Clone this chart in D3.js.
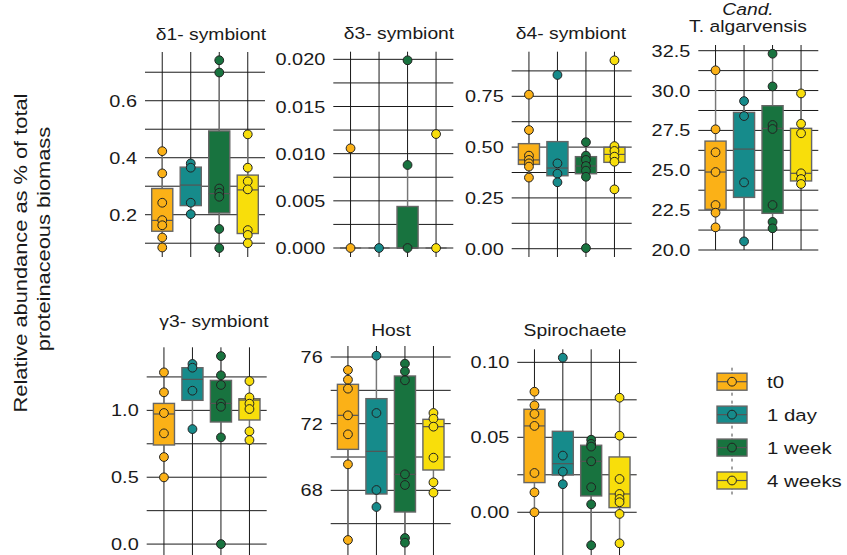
<!DOCTYPE html>
<html><head><meta charset="utf-8">
<script src="https://cdn.jsdelivr.net/npm/d3@7"></script>
<style>html,body{margin:0;padding:0;background:#fff;} text{font-family:"Liberation Sans",Arial,sans-serif;fill:#1a1a1a;}</style>
</head><body><svg id="c" width="847" height="555"></svg>
<script>
// ---------------- DATA ----------------
const groups = ["t0", "1 day", "1 week", "4 weeks"];
const titles = ["δ1- symbiont", "δ3- symbiont", "δ4- symbiont", "T. algarvensis", "γ3- symbiont", "Host", "Spirochaete"];
// box stats per group: [Q1, median, Q3]
const d1Box = [[0.142, 0.180, 0.292], [0.232, 0.304, 0.367], [0.206, 0.274, 0.494], [0.134, 0.287, 0.339]];
const d1Pts = [[0.423, 0.345, 0.242, 0.181, 0.163, 0.120, 0.085], [0.380, 0.365, 0.242, 0.202], [0.742, 0.699, 0.292, 0.277, 0.263, 0.150, 0.083], [0.482, 0.365, 0.317, 0.289, 0.146, 0.129, 0.100]];
const d3Box = [[0, 0, 0], [0, 0, 0], [0, 0, 0.0044], [0, 0, 0]];
const d3Pts = [[0.01057, 0], [0], [0.0199, 0.0088, 0], [0.01208, 0]];
const d4Box = [[0.415, 0.437, 0.517], [0.359, 0.397, 0.527], [0.369, 0.407, 0.453], [0.425, 0.464, 0.499]];
const d4Pts = [[0.758, 0.584, 0.458, 0.437, 0.420, 0.404, 0.350], [0.855, 0.420, 0.369, 0.327], [0.524, 0.458, 0.437, 0.407, 0.384, 0.354, 0.003], [0.927, 0.505, 0.481, 0.453, 0.428, 0.292]];
const taBox = [[22.55, 24.89, 26.83], [23.30, 26.33, 28.63], [22.30, 27.63, 29.05], [24.33, 24.81, 27.63]];
const taPts = [[31.27, 27.57, 26.13, 24.89, 22.82, 22.34, 21.42], [29.34, 28.40, 24.24, 20.54], [32.31, 30.26, 27.84, 27.59, 22.82, 21.76, 21.36], [29.82, 27.92, 27.32, 24.81, 24.45, 24.14]];
const g3Box = [[0.741, 0.973, 1.052], [1.075, 1.232, 1.319], [0.913, 1.052, 1.224], [0.928, 1.077, 1.087]];
const g3Pts = [[1.284, 1.135, 0.980, 0.828, 0.651, 0.499], [1.347, 1.319, 1.147, 0.860], [1.406, 1.262, 1.190, 1.052, 1.027, 0.798, 0.0], [1.219, 1.097, 1.050, 1.010, 0.843, 0.778]];
const hoBox = [[70.46, 72.50, 74.36], [67.78, 70.34, 73.50], [66.70, 68.96, 74.86], [69.22, 71.82, 72.26]];
const hoPts = [[75.22, 74.64, 74.10, 72.50, 71.36, 69.56, 65.02], [76.08, 72.64, 68.02, 67.00], [75.60, 75.14, 74.60, 68.96, 68.32, 65.14, 64.86], [72.64, 72.30, 71.82, 69.96, 68.48, 67.86]];
const spBox = [[0.0198, 0.0576, 0.0687], [0.0249, 0.0324, 0.0540], [0.0109, 0.0340, 0.0447], [0.0031, 0.0122, 0.0369]];
const spPts = [[0.0804, 0.0713, 0.0656, 0.0576, 0.0262, 0.0133, 0.0], [0.1031, 0.0378, 0.0271, 0.0187], [0.0484, 0.0456, 0.0438, 0.0340, 0.0167, 0.0053, -0.0220], [0.0764, 0.0511, 0.0222, 0.0122, 0.0089, 0.0067, -0.0011, -0.0207]];
// grid lines and tick labels
const d1Grid = [0.1, 0.2, 0.3, 0.4, 0.5, 0.6, 0.7], d1Ticks = [0.2, 0.4, 0.6];
const d3Grid = [0, 0.0025, 0.005, 0.0075, 0.01, 0.0125, 0.015, 0.0175, 0.02], d3Ticks = [0, 0.005, 0.01, 0.015, 0.02];
const d4Grid = [0, 0.125, 0.25, 0.375, 0.5, 0.625, 0.75, 0.875], d4Ticks = [0, 0.25, 0.5, 0.75];
const taGrid = [20, 21.25, 22.5, 23.75, 25, 26.25, 27.5, 28.75, 30, 31.25, 32.5], taTicks = [20, 22.5, 25, 27.5, 30, 32.5];
const g3Grid = [0, 0.25, 0.5, 0.75, 1.0, 1.25], g3Ticks = [0, 0.5, 1.0];
const hoGrid = [66, 68, 70, 72, 74, 76], hoTicks = [68, 72, 76];
const spGrid = [0, 0.025, 0.05, 0.075, 0.1], spTicks = [0, 0.05, 0.1];

// ---------------- STYLE / LAYOUT ----------------
const colors = ["#FBB117", "#168B8B", "#18733F", "#F8DE0B"];
const SX = 1.17;
const panels = [
  {box: d1Box, pts: d1Pts, grid: d1Grid, ticks: d1Ticks, fmt: ".1f", x0: 145, x1: 265, top: 52, bot: 257, dom: [0.0516, 0.771], title: [titles[0]], tx: 211, ty: [40]},
  {box: d3Box, pts: d3Pts, grid: d3Grid, ticks: d3Ticks, fmt: ".3f", x0: 333.3, x1: 453.3, top: 51.7, bot: 257, dom: [-0.000954, 0.02081], title: [titles[1]], tx: 399, ty: [39]},
  {box: d4Box, pts: d4Pts, grid: d4Grid, ticks: d4Ticks, fmt: ".2f", x0: 511.7, x1: 631.7, top: 51.7, bot: 257, dom: [-0.0408, 0.9695], title: [titles[2]], tx: 571, ty: [39]},
  {box: taBox, pts: taPts, grid: taGrid, ticks: taTicks, fmt: ".1f", x0: 698.3, x1: 818.3, top: 45, bot: 250, dom: [20, 32.857], title: ["Cand.", titles[3]], tx: 748, ty: [15, 31.5], italic0: true},
  {box: g3Box, pts: g3Pts, grid: g3Grid, ticks: g3Ticks, fmt: ".1f", x0: 146.7, x1: 266.7, top: 347.3, bot: 555, dom: [-0.0816, 1.4716], title: [titles[4]], tx: 214, ty: [327]},
  {box: hoBox, pts: hoPts, grid: hoGrid, ticks: hoTicks, fmt: "d", x0: 330.7, x1: 450.7, top: 346, bot: 555, dom: [64.12, 76.66], title: [titles[5]], tx: 391, ty: [336]},
  {box: spBox, pts: spPts, grid: spGrid, ticks: spTicks, fmt: ".2f", x0: 517.3, x1: 636.7, top: 349.3, bot: 555, dom: [-0.0285, 0.1087], title: [titles[6]], tx: 575, ty: [336]}
];

const svg = d3.select("#c");

function txt(parent, x, y, str, o) {
  o = o || {};
  const t = parent.append("text")
    .attr("transform", `translate(${x},${y}) rotate(${o.rot || 0}) scale(${o.sx || SX},1)`)
    .attr("text-anchor", o.anchor || "middle")
    .style("font-size", (o.size || 17) + "px")
    .text(str);
  if (o.italic) t.style("font-style", "italic");
  return t;
}

panels.forEach(p => {
  const g = svg.append("g");
  const x = d3.scaleBand().domain(groups).range([p.x0, p.x1]).paddingInner(0).paddingOuter(0.105);
  const y = d3.scaleLinear().domain(p.dom).range([p.bot, p.top]);
  const cx = d => x(d) + x.bandwidth() / 2;
  const bw = x.bandwidth() * 0.74;

  // horizontal grid
  g.selectAll("line.h").data(p.grid).join("line")
    .attr("x1", p.x0).attr("x2", p.x1)
    .attr("y1", d => y(d)).attr("y2", d => y(d))
    .attr("stroke", "#1a1a1a").attr("stroke-width", 1);
  // vertical lines through categories
  g.selectAll("line.v").data(groups).join("line")
    .attr("x1", cx).attr("x2", cx)
    .attr("y1", p.top).attr("y2", p.bot)
    .attr("stroke", "#1a1a1a").attr("stroke-width", 1);
  // tick labels
  const f = d3.format(p.fmt);
  p.ticks.forEach(t => txt(g, p.x0 - 8, y(t) + 6, f(t), {anchor: "end", size: 17}));

  // whiskers (derived from points within 1.5 IQR), boxes, medians
  groups.forEach((grp, i) => {
    const [q1, med, q3] = p.box[i];
    const iqr = q3 - q1;
    const inr = p.pts[i].filter(v => v >= q1 - 1.5 * iqr && v <= q3 + 1.5 * iqr);
    const lo = d3.min(inr.concat([q1])), hi = d3.max(inr.concat([q3]));
    g.append("line").attr("x1", cx(grp)).attr("x2", cx(grp))
      .attr("y1", y(hi)).attr("y2", y(q3)).attr("stroke", "#777").attr("stroke-width", 1.4);
    g.append("line").attr("x1", cx(grp)).attr("x2", cx(grp))
      .attr("y1", y(q1)).attr("y2", y(lo)).attr("stroke", "#777").attr("stroke-width", 1.4);
    g.append("rect")
      .attr("x", cx(grp) - bw / 2).attr("width", bw)
      .attr("y", y(q3)).attr("height", Math.max(0, y(q1) - y(q3)))
      .attr("fill", colors[i]).attr("stroke", "#666").attr("stroke-width", 1.4);
    g.append("line").attr("x1", cx(grp) - bw / 2).attr("x2", cx(grp) + bw / 2)
      .attr("y1", y(med)).attr("y2", y(med)).attr("stroke", "#555").attr("stroke-width", 1.2);
  });
  // points
  groups.forEach((grp, i) => {
    g.selectAll(null).data(p.pts[i]).join("circle")
      .attr("cx", cx(grp)).attr("cy", d => y(d)).attr("r", 4.4)
      .attr("fill", colors[i]).attr("stroke", "#222").attr("stroke-width", 1);
  });
  // titles
  p.title.forEach((t, k) => txt(g, p.tx, p.ty[k], t, {size: 16.5, italic: p.italic0 && k === 0}));
});

// y-axis label
txt(svg, 27, 253, "Relative abundance as % of total", {rot: -90, size: 18.5, sx: 1.18});
txt(svg, 50, 239, "proteinaceous biomass", {rot: -90, size: 18.5, sx: 1.18});

// legend
const lg = svg.append("g");
const ly = d3.scalePoint().domain(groups).range([381.7, 480.5]);
groups.forEach((grp, i) => {
  const yc = ly(grp), xc = 732;
  lg.append("line").attr("x1", xc).attr("x2", xc).attr("y1", yc - 14).attr("y2", yc + 14)
    .attr("stroke", "#444").attr("stroke-width", 1).attr("stroke-dasharray", "3,2");
  lg.append("rect").attr("x", xc - 15).attr("y", yc - 8.5).attr("width", 30).attr("height", 17)
    .attr("fill", colors[i]).attr("stroke", "#666").attr("stroke-width", 1.4);
  lg.append("line").attr("x1", xc - 15).attr("x2", xc + 15).attr("y1", yc).attr("y2", yc)
    .attr("stroke", "#555").attr("stroke-width", 1.2);
  lg.append("circle").attr("cx", xc).attr("cy", yc).attr("r", 4.4)
    .attr("fill", colors[i]).attr("stroke", "#222").attr("stroke-width", 1);
  txt(lg, 767, yc + 6.5, grp, {anchor: "start", size: 17, sx: 1.2});
});
</script></body></html>
